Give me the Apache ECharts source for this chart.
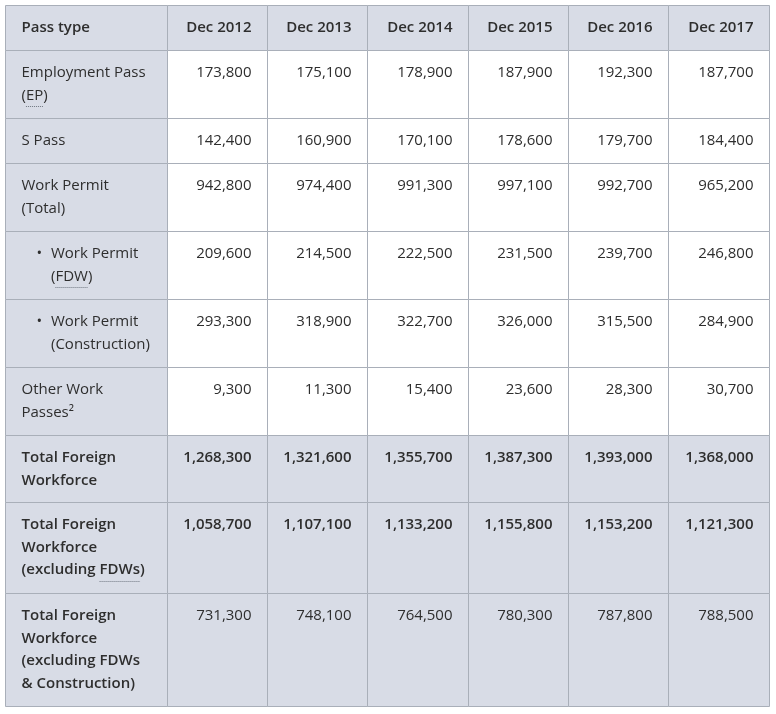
<!DOCTYPE html>
<html>
<head>
<meta charset="utf-8">
<script src="https://cdn.jsdelivr.net/npm/echarts@6/dist/echarts.min.js"></script>
<style>
html,body{margin:0;padding:0;background:#fff;}
#chart{width:776px;height:714px;}
</style>
</head>
<body>
<div id="chart"></div>
<script>
// ---- data ----
const headerLabels = ['Pass type', 'Dec 2012', 'Dec 2013', 'Dec 2014', 'Dec 2015', 'Dec 2016', 'Dec 2017'];
const rowLabels = [
  'Employment Pass\n([EP])',
  'S Pass',
  'Work Permit\n(Total)',
  '• Work Permit\n([FDW])',
  '• Work Permit\n(Construction)',
  'Other Work\nPasses²',
  'Total Foreign\nWorkforce',
  'Total Foreign\nWorkforce\n(excluding [FDWs])',
  'Total Foreign\nWorkforce\n(excluding FDWs\n& Construction)'
];
const employmentPass = [173800, 175100, 178900, 187900, 192300, 187700];
const sPass = [142400, 160900, 170100, 178600, 179700, 184400];
const workPermitTotal = [942800, 974400, 991300, 997100, 992700, 965200];
const workPermitFDW = [209600, 214500, 222500, 231500, 239700, 246800];
const workPermitConstruction = [293300, 318900, 322700, 326000, 315500, 284900];
const otherWorkPasses = [9300, 11300, 15400, 23600, 28300, 30700];
const totalForeignWorkforce = [1268300, 1321600, 1355700, 1387300, 1393000, 1368000];
const totalExclFDW = [1058700, 1107100, 1133200, 1155800, 1153200, 1121300];
const totalExclFDWConstruction = [731300, 748100, 764500, 780300, 787800, 788500];
const rowValues = [employmentPass, sPass, workPermitTotal, workPermitFDW, workPermitConstruction,
  otherWorkPasses, totalForeignWorkforce, totalExclFDW, totalExclFDWConstruction];
const shadedRows = [6, 7, 8];     // total rows (index in rowLabels)
const boldValueRows = [6, 7];
const boldLabelRows = [6, 7, 8];

// ---- layout/style ----
const FIRST_COL_W = 1.615;
const SHADE = '#d8dce6';
const BORDER = '#a9afb9';
const TEXT = '#2e2e2e';
const FONT = '"Open Sans", "Noto Sans", sans-serif';
const FS = 15;
const PAD_TOP = 11;
const BOLD_W = 600;

const mctx = document.createElement('canvas').getContext('2d');
function measure(t, bold) { mctx.font = (bold ? BOLD_W + ' ' : '') + FS + 'px ' + FONT; return mctx.measureText(t).width; }

// build cells
const cells = [];
const allRows = [{label: headerLabels[0], values: headerLabels.slice(1), header: true}]
  .concat(rowLabels.map((l, i) => ({label: l, values: rowValues[i].map(v => v.toLocaleString('en-US')), idx: i})));
let yCursor = 0;
allRows.forEach((row, r) => {
  const lines = row.label.split('\n').length;
  const h = lines + 1;
  const shaded = row.header || shadedRows.includes(row.idx);
  for (let c = 0; c < 7; c++) {
    const x0 = c === 0 ? 0 : FIRST_COL_W + c - 1;
    const x1 = c === 0 ? FIRST_COL_W : FIRST_COL_W + c;
    const text = c === 0 ? row.label : row.values[c - 1];
    let bold;
    if (row.header) bold = true;
    else if (c === 0) bold = boldLabelRows.includes(row.idx);
    else bold = boldValueRows.includes(row.idx);
    cells.push({
      value: [x0, yCursor, x1, yCursor + h],
      text: text, first: c === 0, bold: bold,
      fill: (c === 0 || shaded) ? SHADE : '#ffffff'
    });
  }
  yCursor += h;
});
const totalUnits = yCursor;

function renderItem(params, api) {
  const cell = cells[params.dataIndex];
  const p0 = api.coord([api.value(0), api.value(1)]);
  const p1 = api.coord([api.value(2), api.value(3)]);
  const x0 = Math.round(p0[0]) + 0.5, y0 = Math.round(p0[1]) + 0.5;
  const x1 = Math.round(p1[0]) + 0.5, y1 = Math.round(p1[1]) + 0.5;
  const unit = api.size([0, 1])[1];
  const children = [{
    type: 'rect',
    shape: {x: x0, y: y0, width: x1 - x0, height: y1 - y0},
    style: {fill: cell.fill, stroke: BORDER, lineWidth: 1}
  }];
  const lines = cell.text.split('\n');
  const fw = cell.bold ? BOLD_W : 'normal';
  let indent = 16;
  lines.forEach((ln, i) => {
    const cy = y0 + PAD_TOP + unit * (i + 0.5);
    let t = ln;
    if (cell.first) {
      if (i === 0 && t.startsWith('• ')) {
        indent = 45.5;
        children.push({type: 'text', style: {text: '•', x: x0 + 31, y: cy, fill: TEXT,
          fontSize: FS, fontFamily: FONT, fontWeight: fw, align: 'left', verticalAlign: 'middle'}});
        t = t.slice(2);
      }
      const m = t.match(/^(.*)\[(.+)\](.*)$/);
      if (m) {
        const pre = measure(m[1], cell.bold), w = measure(m[2], cell.bold);
        const ux = x0 + indent + pre;
        const uy = Math.round(cy + 11) + 0.5;
        children.push({type: 'line', shape: {x1: ux, y1: uy, x2: ux + w, y2: uy},
          style: {stroke: '#6f7680', lineWidth: 1, lineDash: [1, 1]}});
        t = m[1] + m[2] + m[3];
      }
      children.push({type: 'text', style: {text: t, x: x0 + indent, y: cy, fill: TEXT,
        fontSize: FS, fontFamily: FONT, fontWeight: fw, align: 'left', verticalAlign: 'middle'}});
    } else {
      children.push({type: 'text', style: {text: t, x: x1 - 16, y: cy, fill: TEXT,
        fontSize: FS, fontFamily: FONT, fontWeight: fw, align: 'right', verticalAlign: 'middle'}});
    }
  });
  return {type: 'group', children: children};
}

const chart = echarts.init(document.getElementById('chart'));
chart.setOption({
  animation: false,
  backgroundColor: '#ffffff',
  grid: {left: 5, top: 5, right: 7.5, bottom: 8, containLabel: false},
  xAxis: {type: 'value', min: 0, max: FIRST_COL_W + 6, show: false},
  yAxis: {type: 'value', min: 0, max: totalUnits, inverse: true, show: false},
  series: [{
    type: 'custom',
    renderItem: renderItem,
    encode: {x: [0, 2], y: [1, 3]},
    data: cells.map(c => c.value),
    silent: true
  }]
});
</script>
</body>
</html>
